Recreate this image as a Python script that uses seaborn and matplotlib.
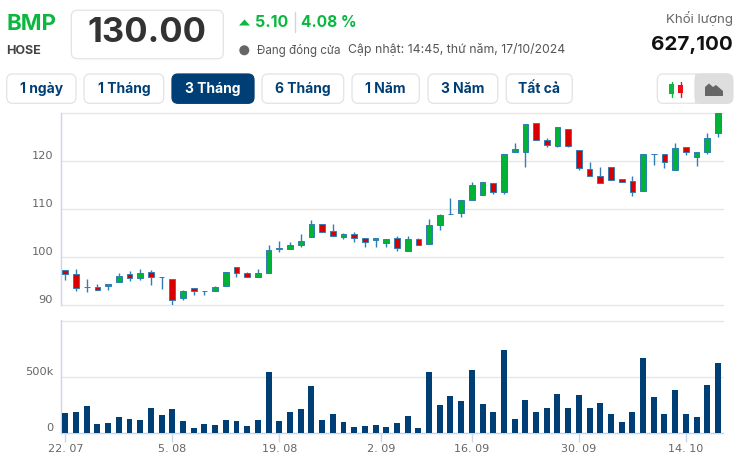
import numpy as np
import pandas as pd
import matplotlib
matplotlib.use('Agg')
import matplotlib.pyplot as plt
import seaborn as sns
from matplotlib.patches import FancyBboxPatch, Polygon, Rectangle, Circle
from matplotlib.transforms import ScaledTranslation

# price data
open_ = [97.3, 96.45, 93.75, 93.75, 93.95, 94.8, 96.45, 95.6, 96.85, 95.85,
         95.4, 91.45, 93.55, 92.9, 92.9, 93.95, 97.9, 96.65, 95.85, 96.65,
         101.7, 101.65, 102.5, 104.15, 106.85, 105.4, 104.15, 104.8, 103.95, 103.55,
         102.9, 103.95, 101.25, 103.75, 102.7, 106.65, 108.95, 109.15, 111.85, 112.9,
         115.4, 113.55, 121.85, 121.85, 127.9, 124.35, 123.1, 126.65, 122.3, 118.35,
         116.85, 118.75, 116.25, 115.85, 113.75, 121.45, 121.45, 118.1, 122.9, 120.85,
         121.85, 125.85]
close = [96.45, 93.55, 93.75, 93.15, 94.35, 96.05, 95.6, 96.65, 95.85, 95.85,
         91.05, 92.9, 92.9, 92.9, 93.75, 96.85, 96.75, 95.85, 96.65, 101.45,
         101.85, 102.5, 103.35, 106.85, 105.2, 104.35, 104.8, 103.95, 103.1, 103.95,
         103.75, 101.85, 103.75, 102.5, 106.65, 108.75, 108.95, 111.85, 115.0, 115.6,
         113.55, 121.45, 122.5, 127.7, 124.35, 123.35, 127.1, 123.1, 118.55, 116.85,
         115.4, 116.05, 115.6, 113.55, 121.45, 121.45, 119.8, 122.7, 121.85, 121.85,
         124.8, 130.0]
high = [97.3, 97.55, 95.5, 94.45, 94.35, 96.75, 97.15, 97.55, 97.3, 95.85,
        95.4, 93.15, 93.55, 92.9, 93.95, 96.85, 97.9, 96.85, 97.55, 102.55,
        103.4, 103.2, 104.85, 107.7, 106.85, 106.85, 105.0, 105.3, 103.95, 103.95,
        103.75, 104.35, 104.35, 103.95, 107.9, 108.95, 112.3, 111.85, 115.6, 115.6,
        115.4, 121.45, 123.75, 127.7, 127.9, 124.8, 127.1, 126.65, 122.3, 119.8,
        118.75, 118.75, 116.25, 116.85, 121.45, 121.45, 121.45, 123.75, 122.9, 121.85,
        125.85, 130.0]
low = [95.35, 93.05, 92.85, 93.15, 93.25, 94.8, 95.15, 95.35, 94.25, 93.45,
       90.15, 91.2, 92.2, 92.2, 92.9, 93.95, 95.95, 95.85, 95.85, 96.65,
       101.2, 101.65, 102.2, 104.15, 105.2, 104.35, 103.75, 103.25, 102.2, 102.2,
       102.2, 101.4, 101.25, 102.5, 102.7, 105.75, 108.95, 108.45, 111.85, 112.9,
       113.1, 113.1, 121.85, 118.9, 124.35, 122.9, 122.9, 122.9, 118.25, 116.85,
       115.4, 116.05, 115.6, 112.85, 113.75, 119.3, 118.7, 118.1, 121.4, 119.1,
       121.6, 125.15]
volume = [181500, 190500, 244000, 83000, 92000, 146000, 128000, 119000, 226000, 164000,
          217000, 110000, 48000, 83000, 74000, 119000, 110000, 65000, 119000, 548000,
          110000, 190000, 217000, 423000, 119000, 173000, 101000, 57000, 65000, 74000,
          57000, 92000, 155000, 48000, 548000, 253000, 333000, 289000, 565000, 262000,
          190000, 744000, 128000, 298000, 190000, 226000, 351000, 226000, 342000, 226000,
          271000, 173000, 101000, 190000, 673000, 324000, 173000, 387000, 173000, 146000,
          432000, 627100]

date_ticks = [0, 10, 20, 29.5, 38, 48, 58]
date_labels = ['22. 07', '5. 08', '19. 08', '2. 09', '16. 09', '30. 09', '14. 10']
price_ticks = [90, 100, 110, 120, 130]
price_labels = ['90', '100', '110', '120', '']
vol_ticks = [0, 500000, 1000000]
vol_labels = ['0', '500k', '']
buttons = ['1 ngày', '1 Tháng', '3 Tháng', '6 Tháng', '1 Năm', '3 Năm', 'Tất cả']

GREEN = '#00b336'
RED = '#d80000'
EDGE = '#2f7eb6'
NAVY = '#003f75'
GRID = '#e6e6e6'
AXIS = '#ccd6eb'
W, H = 749, 473

sns.set_theme(style='white')
plt.rcParams['font.family'] = ['Inter', 'DejaVu Sans']

df = pd.DataFrame({'i': np.arange(len(close)), 'open': open_, 'close': close,
                   'high': high, 'low': low, 'volume': volume})


def make_axes(fig, x0, y0, x1, y1):
    # pixel box (from top left) to figure fractions
    return fig.add_axes([x0 / W, 1 - y1 / H, (x1 - x0) / W, (y1 - y0) / H])


fig = plt.figure(figsize=(W / 100, H / 100), dpi=100, facecolor='white')

# header and buttons drawn in pixel coordinates
ui = make_axes(fig, 0, 0, W, H)
ui.set_xlim(0, W)
ui.set_ylim(H, 0)
ui.axis('off')


def box(x0, y0, x1, y1, fc='white', ec='#e3e3e3', r=6):
    ui.add_patch(FancyBboxPatch((x0 + r, y0 + r), x1 - x0 - 2 * r, y1 - y0 - 2 * r,
                                boxstyle=f'round,pad={r},rounding_size={r}',
                                fc=fc, ec=ec, lw=0.9))


ui.text(6, 23.5, 'BMP', color='#0bb83f', fontsize=16, fontweight='bold', va='center')
ui.text(6, 51.5, 'HOSE', color='#444444', fontsize=9, fontweight='bold', va='center')
box(71.3, 10.3, 223.3, 58.7)
ui.text(147.3, 33, '130.00', color='#333333', fontsize=24.8, fontweight='bold', ha='center', va='center')
ui.add_patch(Polygon([[239, 25.5], [250, 25.5], [244.5, 19.5]], fc='#0bb83f', lw=0))
ui.text(255.5, 22.5, '5.10', color='#0bb83f', fontsize=11.5, fontweight='bold', va='center')
ui.plot([295, 295], [12, 32], color='#d5d5d5', lw=1)
ui.text(301, 22.5, '4.08 %', color='#0bb83f', fontsize=11.2, fontweight='bold', va='center')
ui.add_patch(Circle((244.3, 50.3), 5, fc='#666666', lw=0))
ui.text(257, 50.5, 'Đang đóng cửa', color='#555555', fontsize=8.3, va='center')
ui.text(348, 50, 'Cập nhật: 14:45, thứ năm, 17/10/2024', color='#555555', fontsize=8.85, va='center')
ui.text(732.5, 19, 'Khối lượng', color='#666666', fontsize=9.6, ha='right', va='center')
ui.text(732.5, 45.5, '627,100', color='#111111', fontsize=14.8, fontweight='bold', ha='right', va='center')

button_x = [(6.7, 76), (84, 163.7), (172, 254), (262, 343.7), (352, 419.3), (428, 497.7), (506.3, 572.3)]
for label, (x0, x1) in zip(buttons, button_x):
    active = label == '3 Tháng'
    box(x0, 74, x1, 103.3, fc=NAVY if active else 'white', ec=NAVY if active else '#e3e3e3')
    ui.text((x0 + x1) / 2, 88.7, label, color='white' if active else NAVY, fontsize=10,
            fontweight='bold', ha='center', va='center')

# chart type toggle
box(657.3, 74, 732.7, 103.3)
box(695, 74, 732.7, 103.3, fc='#dedede', ec='#dedede')
ui.add_patch(Rectangle((695, 74.5), 8, 28.3, fc='#dedede', lw=0))
ui.plot([671.7, 671.7], [81.7, 96.7], color='#0bb83f', lw=1)
ui.add_patch(Rectangle((669.2, 84), 5, 10, fc='#0bb83f', lw=0))
ui.plot([680.7, 680.7], [81.7, 96.7], color='#e8101a', lw=1)
ui.add_patch(Rectangle((678.2, 85), 5, 8, fc='#e8101a', lw=0))
ui.add_patch(Polygon([[705, 96], [705, 87], [709, 83.5], [713, 87], [716, 85], [723, 91], [723, 96]],
                     fc='#666666', lw=0))

# candlesticks
ax = make_axes(fig, 60.7, 113.3, 722.7, 305.3)
ax.patch.set_alpha(0)
up = df['close'] >= df['open']
bottom = df[['open', 'close']].min(axis=1)
height = (df['open'] - df['close']).abs()
ax.vlines(df['i'], df['low'], df['high'], color=EDGE, lw=1, zorder=3)
ax.bar(df['i'], height, bottom=bottom, width=0.54, color=np.where(up, GREEN, RED),
       edgecolor=EDGE, linewidth=0.7, zorder=4)
ax.set_xlim(-0.43, 61.44)
ax.set_ylim(90, 130)
ax.set_yticks(price_ticks, labels=price_labels)
ax.set_xticks([])

# volume bars
ax_vol = make_axes(fig, 60.7, 320.3, 722.7, 433.3)
ax_vol.patch.set_alpha(0)
sns.barplot(data=df, x='i', y='volume', native_scale=True, color=NAVY, saturation=1,
            width=0.56, errorbar=None, linewidth=0, ax=ax_vol, zorder=3)
ax_vol.set_xlim(-0.43, 61.44)
ax_vol.set_ylim(0, 1009000)
ax_vol.set_xlabel('')
ax_vol.set_ylabel('')
ax_vol.set_yticks(vol_ticks, labels=vol_labels)
ax_vol.set_xticks(date_ticks, labels=date_labels)

shift = ScaledTranslation(0, 6.5 / 100, fig.dpi_scale_trans)
for a in (ax, ax_vol):
    a.grid(True, axis='y', color=GRID, lw=1)
    for line in a.get_ygridlines():
        line.set_clip_on(False)
    a.set_axisbelow(True)
    for side in ('top', 'right', 'bottom'):
        a.spines[side].set_visible(False)
    a.spines['left'].set_color(AXIS)
    a.spines['left'].set_linewidth(1)
    a.tick_params(axis='y', length=0, pad=5.5, labelsize=8.2, labelcolor='#666666')
    for t in a.get_yticklabels():
        t.set_fontfamily('DejaVu Sans')
        t.set_transform(t.get_transform() + shift)

ax_vol.spines['bottom'].set_visible(True)
ax_vol.spines['bottom'].set_color(AXIS)
ax_vol.spines['bottom'].set_linewidth(1)
ax_vol.tick_params(axis='x', length=6.5, width=1, color=AXIS, pad=1.5, labelsize=8, labelcolor='#666666', bottom=True)
for t in ax_vol.get_xticklabels():
    t.set_fontfamily('DejaVu Sans')

fig.savefig('out.png', dpi=100)
